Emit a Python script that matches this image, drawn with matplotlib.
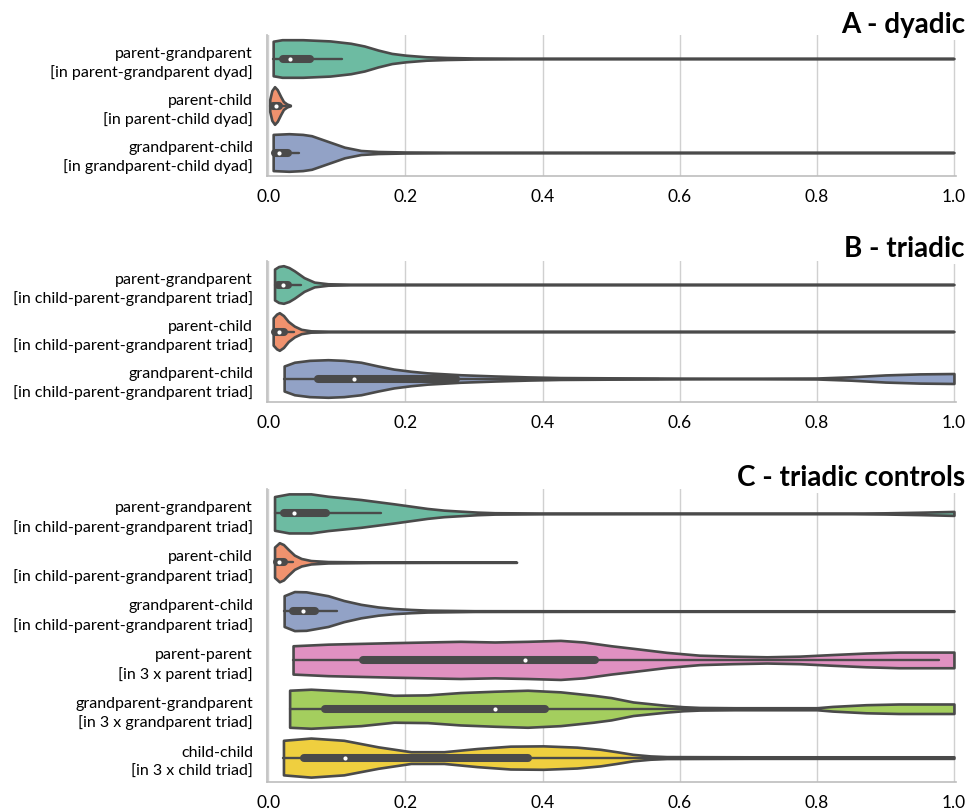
import colorsys
import numpy as np
import matplotlib
matplotlib.use("Agg")
import matplotlib.pyplot as plt
import matplotlib.colors as mcolors

plt.rcParams['font.family'] = ['Lato', 'DejaVu Sans']

# ---- data ----
# each violin: positions along x, relative half-width, box stats (whisker lo, q1, median, q3, whisker hi)
a_labels = ["parent-grandparent\n[in parent-grandparent dyad]",
            "parent-child\n[in parent-child dyad]",
            "grandparent-child\n[in grandparent-child dyad]"]
a_coords = [[0.007, 0.02, 0.05, 0.09, 0.12, 0.14, 0.16, 0.18, 0.2, 0.23, 0.26, 0.3, 0.4, 0.6, 1.0],
            [0.002, 0.005, 0.009, 0.013, 0.018, 0.022, 0.027, 0.032],
            [0.007, 0.03, 0.05, 0.063, 0.087, 0.111, 0.135, 0.16, 0.2, 0.3, 0.6, 1.0]]
a_widths = [[17, 18.5, 18.5, 17.3, 15, 12.3, 8.3, 5, 3.3, 1.7, 1, 0.5, 0.2, 0.1, 0.05],
            [6, 15, 19, 16, 9, 4, 1.5, 0.3],
            [18, 18.7, 18, 16.7, 11, 5.3, 2, 1, 0.5, 0.2, 0.1, 0.05]]
a_boxes = [(0.007, 0.022, 0.032, 0.06, 0.108),
           (0.002, 0.007, 0.011, 0.016, 0.026),
           (0.007, 0.009, 0.015, 0.029, 0.045)]

b_labels = ["parent-grandparent\n[in child-parent-grandparent triad]",
            "parent-child\n[in child-parent-grandparent triad]",
            "grandparent-child\n[in child-parent-grandparent triad]"]
b_coords = [[0.009, 0.015, 0.022, 0.03, 0.038, 0.052, 0.067, 0.087, 0.12, 0.2, 0.5, 1.0],
            [0.007, 0.012, 0.016, 0.022, 0.029, 0.038, 0.048, 0.062, 0.09, 0.2, 0.5, 1.0],
            [0.023, 0.038, 0.06, 0.087, 0.11, 0.135, 0.16, 0.183, 0.208, 0.232, 0.28, 0.33,
             0.378, 0.426, 0.5, 0.6, 0.7, 0.8, 0.85, 0.9, 0.95, 1.0]]
b_widths = [[15, 17.5, 18.3, 16.5, 13.3, 6.7, 2.3, 0.7, 0.3, 0.15, 0.08, 0.05],
            [14.5, 18.5, 20, 17, 10.7, 5.7, 2.3, 0.7, 0.3, 0.15, 0.08, 0.05],
            [13.3, 17.3, 19.3, 20, 19.3, 17.3, 13.3, 10, 7.7, 6, 4, 2.7,
             1.7, 1, 0.7, 0.4, 0.3, 0.5, 1.8, 3.8, 4.9, 5.3]]
b_boxes = [(0.009, 0.014, 0.022, 0.029, 0.047),
           (0.007, 0.010, 0.016, 0.023, 0.038),
           (0.023, 0.073, 0.125, 0.273, 0.57)]

c_labels = ["parent-grandparent\n[in child-parent-grandparent triad]",
            "parent-child\n[in child-parent-grandparent triad]",
            "grandparent-child\n[in child-parent-grandparent triad]",
            "parent-parent\n[in 3 x parent triad]",
            "grandparent-grandparent\n[in 3 x grandparent triad]",
            "child-child\n[in 3 x child triad]"]
c_coords = [[0.009, 0.03, 0.062, 0.087, 0.135, 0.183, 0.208, 0.232, 0.256, 0.28, 0.305, 0.33,
             0.4, 0.6, 0.8, 0.85, 0.9, 0.95, 1.0],
            [0.009, 0.016, 0.022, 0.029, 0.038, 0.048, 0.062, 0.087, 0.15, 0.25, 0.362],
            [0.023, 0.038, 0.055, 0.087, 0.11, 0.135, 0.16, 0.183, 0.208, 0.232, 0.3, 0.5, 0.8, 1.0],
            [0.036, 0.087, 0.183, 0.28, 0.33, 0.378, 0.426, 0.46, 0.5, 0.532, 0.581, 0.629,
             0.677, 0.727, 0.775, 0.823, 0.872, 0.92, 1.0],
            [0.031, 0.062, 0.135, 0.183, 0.232, 0.28, 0.33, 0.378, 0.426, 0.474, 0.5, 0.532,
             0.581, 0.605, 0.629, 0.68, 0.8, 0.823, 0.872, 0.92, 1.0],
            [0.022, 0.062, 0.11, 0.16, 0.208, 0.256, 0.305, 0.353, 0.401, 0.45, 0.484, 0.508,
             0.532, 0.557, 0.581, 0.7, 1.0]]
c_widths = [[17, 19.7, 19.7, 17.3, 14, 9.7, 7.3, 5, 3.3, 2.3, 1.3, 0.7,
             0.4, 0.3, 0.3, 0.3, 0.6, 1.2, 2],
            [15, 19.3, 17.5, 12.7, 7, 3.7, 1.7, 0.7, 0.3, 0.15, 0.1],
            [16, 20.3, 20, 16, 11, 7, 4.3, 2.7, 1.7, 1, 0.4, 0.3, 0.3, 0.3],
            [15, 16.7, 18.3, 19.7, 19, 19.7, 20.7, 19, 15, 12.3, 8, 5,
             4, 3.3, 4, 5.7, 7.3, 8.3, 8.3],
            [18.3, 19.3, 16.7, 13.3, 13.7, 16, 17.3, 18.3, 16.7, 13.3, 11, 6.7,
             3.3, 2, 1.3, 1, 1, 2.3, 4, 4.7, 4.7],
            [17.7, 20, 17.7, 11, 6, 6, 9.3, 11.7, 12, 10.7, 8.5, 6,
             3.3, 1.7, 1, 0.8, 0.8]]
c_boxes = [(0.009, 0.023, 0.038, 0.084, 0.164),
           (0.009, 0.012, 0.016, 0.023, 0.036),
           (0.023, 0.036, 0.051, 0.068, 0.1),
           (0.036, 0.138, 0.375, 0.477, 0.978),
           (0.031, 0.083, 0.331, 0.404, 0.8),
           (0.022, 0.052, 0.112, 0.378, 0.7)]

titles = ["A - dyadic", "B - triadic", "C - triadic controls"]

set2 = ['#66c2a5', '#fc8d62', '#8da0cb', '#e78ac3', '#a6d854', '#ffd92f']
edge = '#4a4a4a'


def desat(c, prop=0.85):
    # like seaborn's saturation setting
    h, l, s = colorsys.rgb_to_hls(*mcolors.to_rgb(c))
    return colorsys.hls_to_rgb(h, l, s * prop)


colors = [desat(c) for c in set2]


def draw_panel(ax, labels, coords, widths, boxes):
    n = len(labels)
    stats = []
    for c, w, b in zip(coords, widths, boxes):
        stats.append(dict(coords=np.array(c), vals=np.array(w, dtype=float),
                          mean=b[2], median=b[2], min=c[0], max=c[-1]))
    parts = ax.violin(stats, positions=list(range(n)), orientation='horizontal',
                      widths=0.8, showmeans=False, showextrema=False, showmedians=False)
    for body, col in zip(parts['bodies'], colors):
        body.set_facecolor(col)
        body.set_edgecolor(edge)
        body.set_linewidth(1.9)
        body.set_alpha(1)
    # inner box like seaborn inner="box"
    for i, b in enumerate(boxes):
        ax.plot([b[0], b[4]], [i, i], color=edge, lw=1.7, solid_capstyle='round', zorder=3)
        ax.plot([b[1], b[3]], [i, i], color=edge, lw=5.8, solid_capstyle='round', zorder=3)
        ax.scatter([b[2]], [i], s=9, color='white', linewidths=0, zorder=4)

    ax.set_ylim(n - 0.5, -0.5)
    ax.set_xlim(-0.002, 1.003)
    ax.set_yticks(range(n))
    ax.set_yticklabels(labels, fontsize=11.5, linespacing=1.4)
    ax.set_xticks(np.arange(0, 1.01, 0.2))
    ax.set_xticklabels(["%.1f" % v for v in np.arange(0, 1.01, 0.2)], fontsize=12.5)
    ax.tick_params(length=0)
    ax.tick_params(axis='y', pad=10)
    ax.tick_params(axis='x', pad=9)
    ax.grid(axis='x', color='#d0d0d0', lw=1)
    ax.set_axisbelow(True)
    for s in ['top', 'right']:
        ax.spines[s].set_visible(False)
    for s in ['left', 'bottom']:
        ax.spines[s].set_color('#bdbdbd')
        ax.spines[s].set_linewidth(1.2)


fig = plt.figure(figsize=(9.7, 8.12), dpi=100)
W, H = 970.0, 812.0
x0, x1 = 267, 956
ax_a = fig.add_axes([x0 / W, 1 - 177 / H, (x1 - x0) / W, 141 / H])
ax_b = fig.add_axes([x0 / W, 1 - 403 / H, (x1 - x0) / W, 141 / H])
ax_c = fig.add_axes([x0 / W, 1 - 783 / H, (x1 - x0) / W, 293 / H])

draw_panel(ax_a, a_labels, a_coords, a_widths, a_boxes)
draw_panel(ax_b, b_labels, b_coords, b_widths, b_boxes)
draw_panel(ax_c, c_labels, c_coords, c_widths, c_boxes)

# panel titles, white box hides the grid behind them
for t, base in zip(titles, [33, 257, 486]):
    fig.text(965 / W, 1 - base / H, t, ha='right', va='baseline', fontsize=20,
             fontweight='bold', color='black',
             bbox=dict(facecolor='white', edgecolor='none', pad=2))

fig.savefig("out.png", dpi=100)
